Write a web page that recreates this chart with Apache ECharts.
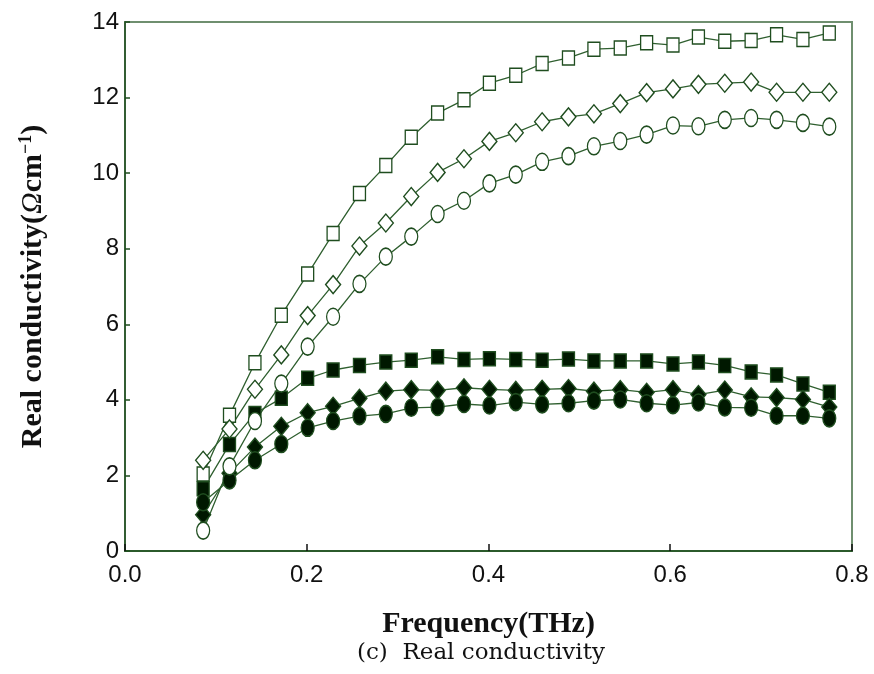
<!DOCTYPE html>
<html>
<head>
<meta charset="utf-8">
<script src="https://cdn.jsdelivr.net/npm/echarts@6/dist/echarts.min.js"></script>
<style>html,body{margin:0;padding:0;background:#fff;}#c{width:874px;height:674px;}</style>
</head>
<body>
<div id="c"></div>
<script>
var freq = [0.086,0.115,0.143,0.172,0.201,0.229,0.258,0.287,0.315,0.344,0.373,0.401,0.430,0.459,0.488,0.516,0.545,0.574,0.603,0.631,0.660,0.689,0.717,0.746,0.775];
var openSquare = [2.04,3.59,4.98,6.24,7.33,8.40,9.46,10.20,10.95,11.59,11.94,12.38,12.59,12.90,13.05,13.28,13.31,13.45,13.39,13.60,13.49,13.51,13.66,13.54,13.71];
var openDiamond = [2.40,3.23,4.28,5.19,6.23,7.05,8.07,8.68,9.38,10.02,10.38,10.84,11.07,11.36,11.49,11.57,11.84,12.13,12.23,12.35,12.38,12.41,12.14,12.14,12.14];
var openCircle = [0.54,2.24,3.44,4.43,5.41,6.20,7.07,7.79,8.32,8.92,9.27,9.73,9.96,10.30,10.45,10.71,10.85,11.02,11.26,11.24,11.41,11.46,11.41,11.33,11.23];
var filledSquare = [1.65,2.82,3.64,4.04,4.57,4.79,4.91,5.00,5.05,5.14,5.07,5.09,5.07,5.05,5.08,5.03,5.03,5.03,4.95,5.00,4.91,4.74,4.66,4.42,4.20];
var filledDiamond = [0.96,2.06,2.75,3.30,3.66,3.83,4.04,4.23,4.27,4.25,4.32,4.28,4.25,4.28,4.30,4.23,4.27,4.20,4.27,4.14,4.26,4.08,4.06,4.01,3.81];
var filledCircle = [1.29,1.87,2.40,2.83,3.26,3.44,3.57,3.63,3.79,3.81,3.89,3.85,3.94,3.88,3.91,3.98,4.01,3.91,3.86,3.93,3.80,3.79,3.58,3.58,3.51];

function pairs(ys){ return freq.map(function(x,i){ return [x, ys[i]]; }); }
var lineColor = '#2f5f2f';
function mk(name, ys, symbol, size, filled){
  return {
    name: name, type: 'line', data: pairs(ys), symbol: symbol, symbolSize: size,
    showSymbol: true, animation: false,
    lineStyle: {color: lineColor, width: 1.3},
    itemStyle: {color: filled ? '#001800' : '#ffffff', borderColor: '#1f4d1f', borderWidth: 1.4, opacity: 1}
  };
}
var chart = echarts.init(document.getElementById('c'), null, {renderer: 'canvas'});
chart.setOption({
  backgroundColor: '#ffffff',
  animation: false,
  title: {
    text: '(c)  Real conductivity', left: 352, bottom: 4,
    textStyle: {fontFamily: 'DejaVu Serif', fontWeight: 'normal', fontSize: 23, color: '#111'}
  },
  grid: {left: 125, right: 22, top: 22, bottom: 123, show: true, borderColor: '#6f8f6f', borderWidth: 2},
  xAxis: {
    type: 'value', min: 0, max: 0.8, interval: 0.2,
    name: 'Frequency(THz)', nameLocation: 'middle', nameGap: 58,
    nameTextStyle: {fontFamily: 'Liberation Serif', fontWeight: 'bold', fontSize: 30, color: '#111'},
    axisLine: {lineStyle: {color: '#2b5a2b', width: 2}},
    axisTick: {inside: true, length: 7, lineStyle: {color: '#111', width: 1.5}},
    axisLabel: {margin: 12, fontFamily: 'Liberation Sans', fontSize: 24, color: '#111',
      formatter: function(v){ return v.toFixed(1); }},
    splitLine: {show: false}
  },
  yAxis: {
    type: 'value', min: 0, max: 14, interval: 2,
    name: '{a|Real conductivity(}{o|Ω}{a|cm}{s|−1}{a|)}', nameLocation: 'middle', nameGap: 76,
    nameTextStyle: {fontFamily: 'Liberation Serif', fontWeight: 'bold', fontSize: 30, color: '#111',
      rich: {
        a: {fontFamily: 'Liberation Serif', fontWeight: 'bold', fontSize: 30, color: '#111'},
        o: {fontFamily: 'Liberation Serif', fontStyle: 'italic', fontWeight: 'normal', fontSize: 30, color: '#111'},
        s: {fontFamily: 'Liberation Serif', fontWeight: 'bold', fontSize: 18, color: '#111', verticalAlign: 'top', padding: [0,0,14,0]}
      }},
    axisLine: {lineStyle: {color: '#1f4d1f', width: 1.5}},
    axisTick: {inside: true, length: 5, lineStyle: {color: '#1f4d1f', width: 1.5}},
    axisLabel: {margin: 6, fontFamily: 'Liberation Sans', fontSize: 24, color: '#111'},
    splitLine: {show: false}
  },
  series: [
    mk('filledSquare', filledSquare, 'rect', [12,14], true),
    mk('filledDiamond', filledDiamond, 'diamond', [15,18], true),
    mk('filledCircle', filledCircle, 'circle', [13,17], true),
    mk('openSquare', openSquare, 'rect', [12,14], false),
    mk('openDiamond', openDiamond, 'diamond', [15,18], false),
    mk('openCircle', openCircle, 'circle', [13,17], false)
  ]
});
</script>
</body>
</html>
